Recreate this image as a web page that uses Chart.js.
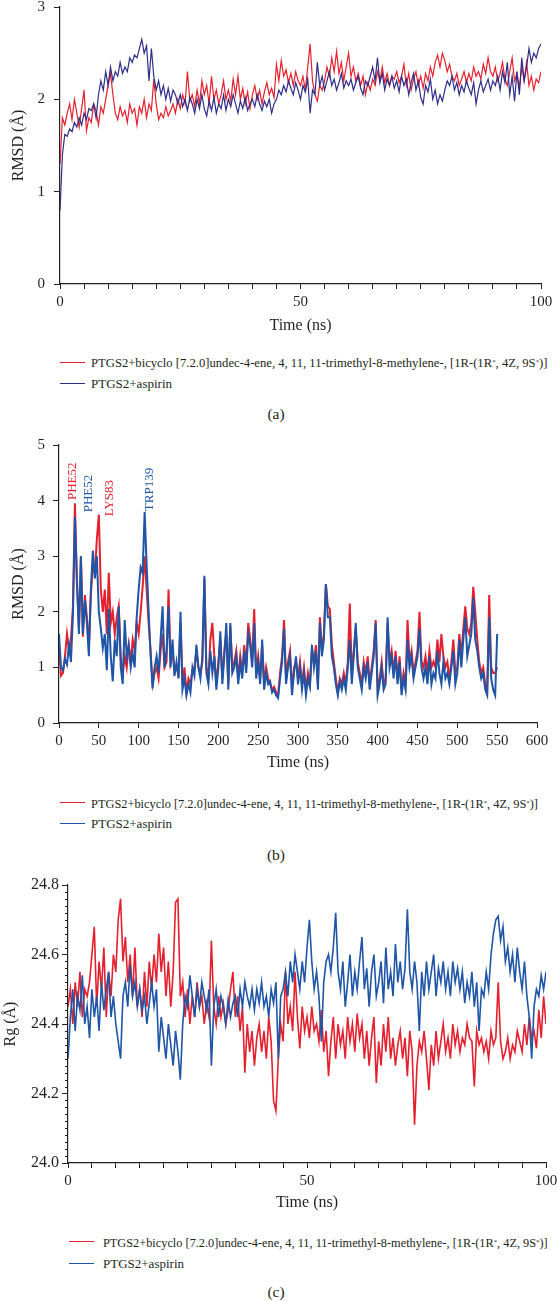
<!DOCTYPE html>
<html>
<head>
<meta charset="utf-8">
<script src="https://cdn.jsdelivr.net/npm/chart.js@4.4.1/dist/chart.umd.min.js"></script>
<style>
body { margin: 0; background: #fff; }
#page { position: relative; width: 557px; height: 1301px; overflow: hidden; background: #fff;
        font-family: 'Liberation Serif', 'DejaVu Serif', serif; color: #231f20; }
.box { position: absolute; left: 0; width: 557px; }
.leg { position: absolute; font-size: 13px; line-height: 15px; white-space: nowrap; }
.sw { position: absolute; width: 25px; height: 0; border-top: 1.5px solid; }
.cap { position: absolute; left: 0; width: 552px; text-align: center; font-size: 15.5px; line-height: 18px; }
sup { font-size: 0.55em; vertical-align: 0.45em; }
</style>
</head>
<body>
<div id="page">
  <div class="box" style="top:-8px;height:343px"><canvas id="chartA" width="557" height="343"></canvas></div>
  <div class="box" style="top:430px;height:342px"><canvas id="chartB" width="557" height="342"></canvas></div>
  <div class="box" style="top:870px;height:342px"><canvas id="chartC" width="557" height="342"></canvas></div>

  <div class="sw" style="left:60px;top:362px;border-color:#e5202e"></div>
  <div class="leg fit" data-right="548" style="left:91px;top:355px">PTGS2+bicyclo [7.2.0]undec-4-ene, 4, 11, 11-trimethyl-8-methylene-, [1R-(1R<sup>*</sup>, 4Z, 9S<sup>*</sup>)]</div>
  <div class="sw" style="left:60px;top:383px;border-color:#2e2d88"></div>
  <div class="leg" style="left:91px;top:376px">PTGS2+aspirin</div>
  <div class="cap" style="top:405px">(a)</div>

  <div class="sw" style="left:60px;top:802px;border-color:#e5202e"></div>
  <div class="leg fit" data-right="538" style="left:91px;top:795px">PTGS2+bicyclo [7.2.0]undec-4-ene, 4, 11, 11-trimethyl-8-methylene-, [1R-(1R<sup>*</sup>, 4Z, 9S<sup>*</sup>)]</div>
  <div class="sw" style="left:60px;top:823px;border-color:#1f55a6"></div>
  <div class="leg" style="left:91px;top:816px">PTGS2+aspirin</div>
  <div class="cap" style="top:846px">(b)</div>

  <div class="sw" style="left:69px;top:1241px;border-color:#e5202e"></div>
  <div class="leg fit" data-right="548" style="left:103px;top:1234px">PTGS2+bicyclo [7.2.0]undec-4-ene, 4, 11, 11-trimethyl-8-methylene-, [1R-(1R<sup>*</sup>, 4Z, 9S<sup>*</sup>)]</div>
  <div class="sw" style="left:69px;top:1263px;border-color:#1f55a6"></div>
  <div class="leg" style="left:103px;top:1256px">PTGS2+aspirin</div>
  <div class="cap" style="top:1283px">(c)</div>
</div>

<script>
// (a) RMSD, 0-100 ns, one value every 0.5 ns
const stepA = 0.5;
const rmsdLigandA = [
  1.30, 1.80, 1.72, 1.85, 1.95, 1.78, 2.00, 1.85, 1.70, 1.90,
  2.10, 1.66, 1.80, 1.75, 1.95, 1.88, 1.72, 1.92, 1.85, 2.00,
  2.15, 2.28, 2.05, 1.85, 1.78, 1.92, 1.82, 1.88, 1.75, 1.95,
  1.85, 1.90, 1.72, 1.92, 1.85, 2.00, 1.80, 1.95, 1.88, 2.22,
  1.95, 1.78, 1.85, 1.80, 1.92, 1.82, 1.88, 1.95, 1.85, 2.00,
  1.90, 2.05, 1.95, 2.30, 1.98, 2.05, 1.92, 2.10, 1.95, 2.20,
  2.05, 2.15, 1.95, 2.25, 2.00, 2.10, 1.95, 2.05, 2.20, 2.00,
  2.10, 1.98, 2.22, 2.05, 2.25, 2.00, 2.12, 1.95, 2.08, 1.90,
  2.05, 2.15, 2.00, 2.10, 1.95, 2.08, 2.18, 2.05, 2.12, 2.02,
  2.38, 2.20, 2.42, 2.25, 2.32, 2.18, 2.28, 2.15, 2.30, 2.20,
  2.15, 2.25, 2.10, 2.35, 2.60, 2.20, 2.05, 1.98, 2.15, 2.10,
  2.20, 2.35, 2.25, 2.45, 2.30, 2.52, 2.28, 2.40, 2.20, 2.35,
  2.50, 2.25, 2.35, 2.20, 2.28, 2.15, 2.25, 2.05, 2.18, 2.10,
  2.22, 2.15, 2.30, 2.20, 2.35, 2.18, 2.28, 2.15, 2.25, 2.22,
  2.30, 2.18, 2.25, 2.38, 2.15, 2.28, 2.10, 2.22, 2.30, 2.15,
  2.25, 2.12, 2.28, 2.20, 2.35, 2.25, 2.40, 2.48, 2.35, 2.50,
  2.42, 2.30, 2.38, 2.25, 2.20, 2.28, 2.15, 2.22, 2.30, 2.18,
  2.28, 2.20, 2.35, 2.25, 2.30, 2.22, 2.38, 2.28, 2.45, 2.30,
  2.25, 2.35, 2.20, 2.28, 2.40, 2.22, 2.15, 2.30, 2.45, 2.20,
  2.28, 2.12, 2.35, 2.20, 2.40, 2.15, 2.25, 2.10, 2.22, 2.18,
  2.30
];
const rmsdAspirinA = [
  0.80, 1.40, 1.62, 1.60, 1.68, 1.65, 1.75, 1.70, 1.80, 1.72,
  1.85, 1.78, 1.90, 1.88, 1.95, 1.80, 2.05, 2.20, 2.10, 2.30,
  2.15, 2.35, 2.20, 2.30, 2.25, 2.40, 2.28, 2.35, 2.30, 2.45,
  2.40, 2.48, 2.45, 2.55, 2.65, 2.50, 2.58, 2.20, 2.55, 2.25,
  2.10, 2.20, 2.05, 2.15, 2.00, 2.12, 1.98, 2.10, 2.05, 1.95,
  2.05, 1.92, 2.00, 1.88, 2.02, 1.95, 1.85, 2.00, 1.90, 2.05,
  1.90, 1.82, 1.98, 1.88, 2.02, 1.85, 1.95, 1.90, 2.05, 1.88,
  2.00, 1.92, 2.05, 1.95, 1.85, 1.98, 1.90, 2.02, 1.88, 1.95,
  2.00, 1.92, 2.05, 1.95, 1.88, 1.98, 1.92, 2.00, 1.85, 1.95,
  2.00, 2.10, 2.05, 2.15, 2.08, 2.20, 2.12, 2.05, 2.18, 2.10,
  2.00, 2.15, 2.08, 2.22, 1.85, 2.10, 2.05, 2.40, 2.15, 2.25,
  2.10, 2.20, 2.30, 2.15, 2.22, 2.10, 2.18, 2.28, 2.12, 2.20,
  2.15, 2.22, 2.10, 2.18, 2.25, 2.12, 2.05, 2.20, 2.15, 2.25,
  2.35, 2.20, 2.45, 2.18, 2.28, 2.10, 2.22, 2.15, 2.25, 2.12,
  2.20, 2.08, 2.25, 2.15, 2.22, 2.05, 2.18, 2.28, 2.10, 2.20,
  2.02, 1.95, 2.15, 2.08, 2.22, 2.00, 2.10, 1.95, 2.05, 1.98,
  2.10, 2.20, 2.15, 2.25, 2.10, 2.18, 2.05, 2.15, 2.08, 2.20,
  2.12, 2.05, 2.18, 1.95, 2.10, 2.20, 2.08, 2.15, 2.22, 2.10,
  2.20, 2.15, 2.25, 2.10, 2.30, 2.18, 2.40, 2.05, 2.25, 1.98,
  2.30, 2.05, 2.45, 2.20, 2.35, 2.55, 2.40, 2.50, 2.45, 2.55,
  2.60
];

// (b) RMSD per residue index, 0-550, one value every 2.5
const stepB = 2.5;
const rmsdLigandB = [
  1.40, 0.85, 0.90, 1.20, 1.60, 1.30, 1.50, 2.10, 3.95, 2.50,
  1.70, 3.00, 1.55, 2.30, 1.90, 1.40, 2.30, 2.85, 2.70, 3.30,
  3.75, 2.40, 2.00, 2.40, 1.60, 2.70, 1.80, 2.00, 1.60, 1.90,
  2.10, 1.20, 0.90, 1.20, 1.00, 1.40, 1.10, 1.50, 1.30, 1.80,
  1.60, 2.00, 2.45, 3.00, 2.40, 1.80, 1.30, 0.70, 0.90, 1.00,
  0.80, 1.30, 1.60, 1.00, 1.10, 2.40, 1.10, 1.30, 0.90, 1.00,
  0.90, 1.80, 0.70, 1.00, 0.55, 0.80, 0.70, 0.95, 1.00, 1.30,
  1.00, 0.90, 1.10, 2.60, 1.00, 0.80, 1.50, 1.80, 1.20, 0.70,
  1.10, 1.50, 0.80, 1.30, 1.60, 0.70, 1.75, 1.00, 1.10, 1.30,
  0.80, 1.20, 0.90, 1.40, 1.00, 1.80, 1.50, 1.10, 2.05, 0.90,
  1.20, 0.80, 1.40, 0.70, 1.00, 0.80, 0.70, 0.60, 0.65, 0.55,
  0.50, 0.90, 1.20, 1.85, 0.80, 1.10, 1.30, 0.60, 1.00, 1.10,
  0.80, 1.10, 0.70, 1.00, 0.60, 0.90, 0.70, 1.30, 1.10, 1.40,
  0.70, 1.90, 1.30, 1.60, 2.50, 2.10, 2.05, 1.40, 1.10, 0.80,
  0.55, 0.80, 0.70, 0.90, 0.70, 1.10, 2.15, 0.90, 1.30, 1.70,
  1.10, 0.90, 0.70, 1.10, 0.90, 1.20, 0.70, 1.00, 1.30, 1.85,
  0.60, 0.80, 1.10, 0.70, 0.80, 1.80, 1.10, 1.30, 0.90, 1.30,
  0.80, 1.20, 0.60, 0.90, 0.70, 1.85, 1.10, 1.30, 0.90, 1.10,
  1.30, 2.00, 1.10, 1.00, 1.20, 0.90, 1.30, 1.00, 1.10, 1.00,
  1.50, 1.10, 1.60, 1.20, 1.00, 1.10, 0.80, 1.10, 1.50, 0.90,
  1.00, 1.60, 1.20, 1.70, 2.10, 1.70, 1.60, 1.80, 2.45, 2.00,
  1.50, 1.10, 0.90, 1.00, 0.70, 0.60, 2.30, 1.00, 0.90, 0.90,
  1.00
];
const rmsdAspirinB = [
  1.60, 1.00, 0.95, 1.15, 1.05, 1.40, 1.10, 1.95, 3.70, 2.60,
  1.60, 3.00, 1.60, 2.20, 1.80, 1.20, 2.40, 3.10, 2.60, 3.00,
  2.00, 1.70, 1.35, 1.60, 0.95, 2.05, 1.20, 0.75, 1.50, 1.20,
  2.10, 1.00, 0.70, 1.85, 1.20, 1.40, 1.00, 1.25, 1.00, 1.90,
  2.40, 2.80, 2.70, 3.80, 2.85, 2.00, 1.20, 0.62, 1.00, 1.20,
  0.90, 1.50, 2.10, 1.00, 1.30, 2.10, 1.00, 1.50, 0.85, 1.10,
  0.80, 2.00, 0.60, 0.80, 0.50, 0.70, 0.55, 1.00, 0.85, 1.40,
  1.00, 0.80, 1.20, 2.65, 0.90, 0.70, 1.30, 0.90, 1.20, 0.60,
  1.00, 1.65, 0.70, 1.20, 1.80, 0.60, 1.80, 0.90, 1.00, 1.20,
  0.70, 1.10, 0.80, 1.30, 0.90, 1.60, 1.40, 1.00, 1.80, 0.80,
  1.10, 0.70, 1.50, 0.60, 0.90, 0.70, 0.75, 0.55, 0.60, 0.50,
  0.45, 0.80, 1.10, 1.70, 0.70, 1.00, 1.20, 0.50, 0.90, 1.20,
  0.70, 1.00, 0.60, 0.90, 0.50, 0.80, 0.65, 1.40, 1.00, 1.30,
  0.60, 1.80, 1.20, 1.50, 2.50, 1.90, 1.90, 1.20, 1.00, 0.70,
  0.50, 0.75, 0.60, 0.80, 0.60, 1.00, 1.50, 0.70, 1.20, 1.80,
  1.00, 0.80, 0.60, 1.00, 0.80, 1.10, 0.60, 0.90, 1.20, 1.80,
  0.50, 0.70, 1.00, 0.60, 0.70, 1.90, 1.00, 1.20, 0.80, 1.20,
  0.70, 1.10, 0.50, 0.80, 0.60, 1.50, 1.00, 1.20, 0.80, 1.00,
  1.20, 1.70, 1.00, 0.80, 1.00, 0.70, 1.20, 0.70, 0.90, 0.80,
  1.30, 0.90, 0.70, 1.10, 0.80, 0.90, 0.70, 1.00, 1.30, 0.70,
  0.90, 1.50, 1.00, 1.50, 1.90, 1.20, 1.40, 1.60, 2.25, 1.50,
  1.30, 1.00, 0.80, 0.90, 0.60, 0.50, 1.90, 0.80, 0.60, 0.50,
  1.60
];
const peakLabels = ['PHE52', 'PHE52', 'LYS83', 'TRP139'];
const peakTimes = [17.6, 37.6, 64, 114];
const peakRmsd = [4.01, 3.79, 3.72, 3.81];
const peakSeries = [0, 1, 0, 1];

// (c) radius of gyration, 0-100 ns, one value every 0.5 ns
const stepC = 0.5;
const rgLigandC = [
  24.45, 24.50, 24.40, 24.52, 24.45, 24.55, 24.42, 24.50, 24.48, 24.52,
  24.60, 24.68, 24.45, 24.58, 24.50, 24.62, 24.42, 24.55, 24.48, 24.60,
  24.55, 24.70, 24.76, 24.58, 24.65, 24.52, 24.60, 24.48, 24.62, 24.45,
  24.50, 24.42, 24.55, 24.45, 24.58, 24.50, 24.60, 24.52, 24.66, 24.55,
  24.62, 24.48, 24.58, 24.45, 24.55, 24.75, 24.76, 24.48, 24.52, 24.42,
  24.50, 24.40, 24.48, 24.42, 24.52, 24.45, 24.48, 24.40, 24.46, 24.42,
  24.64, 24.45, 24.40, 24.48, 24.42, 24.46, 24.40, 24.44, 24.50, 24.55,
  24.42, 24.48, 24.38, 24.45, 24.26, 24.40, 24.32, 24.38, 24.28, 24.36,
  24.40, 24.32, 24.38, 24.30, 24.42, 24.35, 24.18, 24.15, 24.30, 24.40,
  24.35, 24.55, 24.40, 24.45, 24.38, 24.55, 24.42, 24.33, 24.45, 24.38,
  24.42, 24.36, 24.45, 24.38, 24.40, 24.35, 24.44, 24.32, 24.38, 24.25,
  24.35, 24.42, 24.30, 24.40, 24.34, 24.38, 24.30, 24.42, 24.35, 24.40,
  24.32, 24.43, 24.36, 24.40, 24.30, 24.38, 24.28, 24.36, 24.42, 24.23,
  24.35, 24.28, 24.40, 24.32, 24.42, 24.30, 24.36, 24.28, 24.34, 24.38,
  24.30, 24.36, 24.25, 24.38, 24.32, 24.11, 24.28, 24.35, 24.32, 24.38,
  24.30, 24.21, 24.34, 24.28, 24.38, 24.30, 24.35, 24.40, 24.32, 24.36,
  24.30, 24.40, 24.34, 24.38, 24.32, 24.36, 24.34, 24.40, 24.36, 24.35,
  24.22, 24.38, 24.34, 24.36, 24.32, 24.35, 24.30, 24.38, 24.34, 24.36,
  24.52, 24.35, 24.30, 24.32, 24.36, 24.30, 24.34, 24.32, 24.38, 24.35,
  24.32, 24.40, 24.34, 24.42, 24.36, 24.38, 24.33, 24.44, 24.36, 24.48,
  24.40
];
const rgAspirinC = [
  24.30, 24.42, 24.50, 24.38, 24.48, 24.44, 24.54, 24.40, 24.45, 24.36,
  24.50, 24.42, 24.48, 24.38, 24.52, 24.44, 24.50, 24.55, 24.42, 24.48,
  24.40, 24.35, 24.30, 24.48, 24.52, 24.45, 24.57, 24.48, 24.52, 24.45,
  24.50, 24.44, 24.48, 24.40, 24.46, 24.52, 24.45, 24.50, 24.32, 24.42,
  24.36, 24.30, 24.40, 24.34, 24.28, 24.38, 24.32, 24.24, 24.40, 24.48,
  24.45, 24.54, 24.48, 24.42, 24.50, 24.45, 24.52, 24.48, 24.44, 24.50,
  24.28, 24.45, 24.50, 24.42, 24.48, 24.45, 24.40, 24.47, 24.42, 24.46,
  24.48, 24.42, 24.50, 24.45, 24.52, 24.48, 24.45, 24.50, 24.44, 24.50,
  24.46, 24.52, 24.45, 24.48, 24.42, 24.50, 24.46, 24.52, 24.30, 24.48,
  24.50, 24.55, 24.48, 24.58, 24.52, 24.60, 24.55, 24.50, 24.58, 24.52,
  24.62, 24.70, 24.58, 24.50, 24.55, 24.48, 24.35, 24.52, 24.58, 24.60,
  24.55, 24.62, 24.72, 24.55, 24.50, 24.58, 24.45, 24.52, 24.60, 24.48,
  24.55, 24.50, 24.58, 24.65, 24.50, 24.56, 24.45, 24.55, 24.60, 24.48,
  24.52, 24.58, 24.46, 24.62, 24.50, 24.55, 24.48, 24.63, 24.52, 24.58,
  24.50, 24.56, 24.73, 24.55, 24.50, 24.58, 24.52, 24.38, 24.55, 24.48,
  24.58, 24.50, 24.55, 24.60, 24.48, 24.56, 24.52, 24.58, 24.50, 24.55,
  24.48, 24.58, 24.52, 24.56, 24.50, 24.55, 24.46, 24.52, 24.48, 24.55,
  24.45, 24.52, 24.38, 24.50, 24.48, 24.55, 24.50, 24.60, 24.66, 24.70,
  24.71, 24.64, 24.68, 24.58, 24.62, 24.55, 24.60, 24.52, 24.62, 24.55,
  24.50, 24.58, 24.48, 24.42, 24.30, 24.45, 24.50, 24.48, 24.54, 24.50,
  24.55
];

const RED = '#e5202e';
const NAVY = '#2e2d88';
const BLUE = '#1f55a6';
const INK = '#231f20';
const FONT = "'Liberation Serif', 'DejaVu Serif', serif";

// shrink or stretch the long legend lines so they end where the figure's do
document.querySelectorAll('.leg.fit').forEach(el => {
    const target = Number(el.dataset.right) - el.offsetLeft;
    const natural = el.getBoundingClientRect().width;
    el.style.fontSize = (13 * target / natural).toFixed(2) + 'px';
});

function toPoints(values, step) {
    return values.map((v, i) => ({ x: i * step, y: v }));
}

function lineSet(label, values, step, color, width, order) {
    return {
        label: label,
        data: toPoints(values, step),
        borderColor: color,
        borderWidth: width,
        pointRadius: 0,
        tension: 0,
        order: order
    };
}

// short minor ticks on the y axis (panel c)
const minorTicks = {
    id: 'minorTicks',
    afterDraw(chart, args, opts) {
        if (!opts.step) return;
        const y = chart.scales.y;
        const ctx = chart.ctx;
        const n = Math.round((y.max - y.min) / opts.step);
        ctx.save();
        ctx.strokeStyle = INK;
        ctx.lineWidth = 1;
        ctx.beginPath();
        for (let i = 0; i <= n; i++) {
            if (i % opts.every === 0) continue;
            const py = Math.round(y.getPixelForValue(y.min + i * opts.step)) + 0.5;
            ctx.moveTo(y.right - 3, py);
            ctx.lineTo(y.right, py);
        }
        ctx.stroke();
        ctx.restore();
    }
};

// rotated residue labels over the peaks (panel b)
const peakNames = {
    id: 'peakNames',
    afterDatasetsDraw(chart, args, opts) {
        if (!opts.labels) return;
        const ctx = chart.ctx;
        const xs = chart.scales.x, ys = chart.scales.y;
        ctx.save();
        ctx.font = '13px ' + FONT;
        ctx.textAlign = 'left';
        ctx.textBaseline = 'middle';
        opts.labels.forEach((name, i) => {
            ctx.save();
            ctx.translate(xs.getPixelForValue(opts.times[i]), ys.getPixelForValue(opts.values[i]));
            ctx.rotate(-Math.PI / 2);
            ctx.fillStyle = opts.colors[i];
            ctx.fillText(name, 0, 0);
            ctx.restore();
        });
        ctx.restore();
    }
};

function makeChart(id, cfg) {
    const ctx = document.getElementById(id).getContext('2d');
    return new Chart(ctx, {
        type: 'line',
        data: { datasets: cfg.datasets },
        plugins: [minorTicks, peakNames],
        options: {
            responsive: false,
            animation: false,
            events: [],
            layout: { padding: { left: 0, top: cfg.top, right: 557 - cfg.right, bottom: 0 } },
            plugins: {
                legend: { display: false },
                tooltip: { enabled: false },
                minorTicks: cfg.minor || {},
                peakNames: cfg.peaks || {}
            },
            scales: {
                x: {
                    type: 'linear',
                    min: cfg.xMin, max: cfg.xMax,
                    afterFit: s => { s.height = cfg.height - cfg.bottom; s.paddingLeft = 0; s.paddingRight = 0; },
                    border: { display: true, color: INK, width: 1.2 },
                    grid: { drawOnChartArea: false, drawTicks: true, tickLength: 5, color: INK, lineWidth: 1 },
                    ticks: {
                        stepSize: cfg.xStep,
                        autoSkip: false,
                        maxRotation: 0,
                        padding: 4,
                        color: INK,
                        font: { family: FONT, size: 15, weight: 'normal' },
                        callback: v => (v % cfg.xLabelEvery === 0 ? String(v) : '')
                    },
                    title: { display: true, text: 'Time (ns)', color: INK, padding: 0,
                             font: { family: FONT, size: 16, weight: 'normal' } }
                },
                y: {
                    min: cfg.yMin, max: cfg.yMax,
                    afterFit: s => { s.width = cfg.left; s.paddingTop = 0; s.paddingBottom = 0; },
                    border: { display: true, color: INK, width: 1.2 },
                    grid: { drawOnChartArea: false, drawTicks: true, tickLength: 6, color: INK, lineWidth: 1 },
                    ticks: {
                        stepSize: cfg.yStep,
                        padding: cfg.yTickPad,
                        color: INK,
                        font: { family: FONT, size: cfg.yTickSize, weight: 'normal' },
                        callback: cfg.yFormat
                    },
                    title: { display: true, text: cfg.yTitle, color: INK, padding: { top: cfg.yTitlePad, bottom: 0 },
                             font: { family: FONT, size: 16, weight: 'normal' } }
                }
            }
        }
    });
}

makeChart('chartA', {
    datasets: [
        lineSet('PTGS2+bicyclo', rmsdLigandA, stepA, RED, 1.2, 1),
        lineSet('PTGS2+aspirin', rmsdAspirinA, stepA, NAVY, 1.2, 0)
    ],
    left: 60, right: 541, top: 15, bottom: 292, height: 343,
    xMin: 0, xMax: 100, xStep: 5, xLabelEvery: 50,
    yMin: 0, yMax: 3, yStep: 1, yTickPad: 9, yTitlePad: 9, yTickSize: 15,
    yFormat: v => String(v),
    yTitle: 'RMSD (Å)'
});

makeChart('chartB', {
    datasets: [
        lineSet('PTGS2+bicyclo', rmsdLigandB, stepB, RED, 2, 1),
        lineSet('PTGS2+aspirin', rmsdAspirinB, stepB, BLUE, 2, 0)
    ],
    left: 59, right: 537, top: 15, bottom: 293, height: 342,
    xMin: 0, xMax: 600, xStep: 50, xLabelEvery: 50,
    yMin: 0, yMax: 5, yStep: 1, yTickPad: 8, yTitlePad: 9, yTickSize: 15,
    yFormat: v => String(v),
    yTitle: 'RMSD (Å)',
    peaks: { labels: peakLabels, times: peakTimes, values: peakRmsd,
             colors: peakSeries.map(s => (s === 0 ? RED : BLUE)) }
});

makeChart('chartC', {
    datasets: [
        lineSet('PTGS2+bicyclo', rgLigandC, stepC, RED, 1.6, 1),
        lineSet('PTGS2+aspirin', rgAspirinC, stepC, BLUE, 1.6, 0)
    ],
    left: 68, right: 546, top: 15, bottom: 293, height: 342,
    xMin: 0, xMax: 100, xStep: 5, xLabelEvery: 50,
    yMin: 24.0, yMax: 24.8, yStep: 0.2, yTickPad: 3, yTitlePad: 1, yTickSize: 16,
    yFormat: v => v.toFixed(1),
    yTitle: 'Rg (Å)',
    minor: { step: 0.02, every: 10 }
});
</script>
</body>
</html>
